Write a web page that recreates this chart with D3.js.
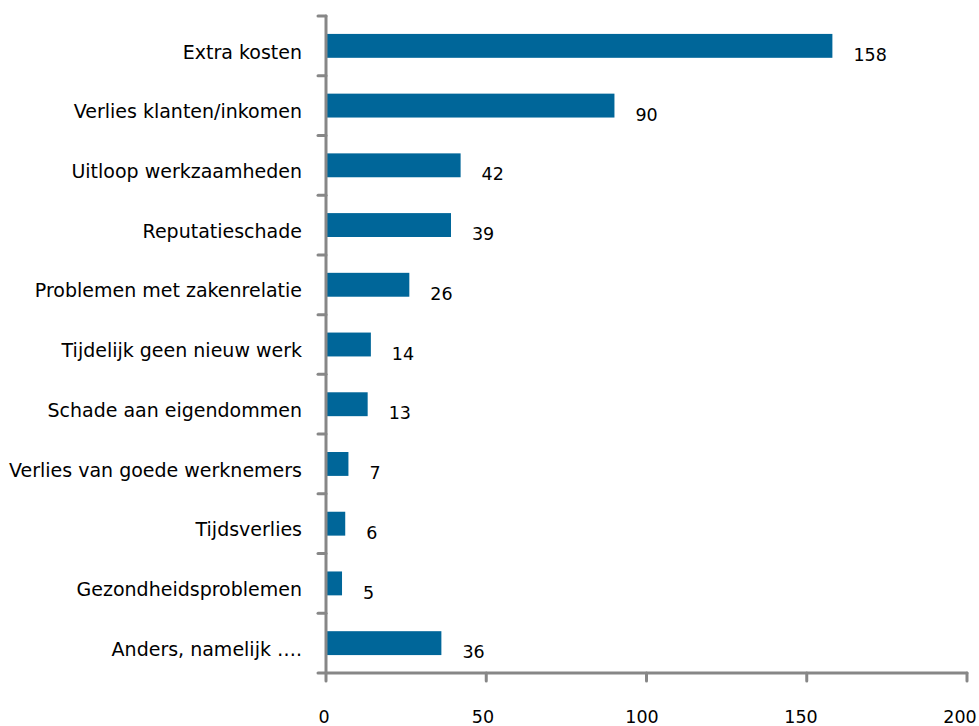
<!DOCTYPE html>
<html>
<head>
<meta charset="utf-8">
<script src="https://cdn.jsdelivr.net/npm/d3@7"></script>
<style>
  html, body { margin: 0; padding: 0; background: #fff; }
  svg { display: block; }
  text { font-family: "DejaVu Sans", Verdana, sans-serif; fill: #000; }
</style>
</head>
<body>
<svg id="chart" width="979" height="726"></svg>
<script>
const categories = [
  "Extra kosten",
  "Verlies klanten/inkomen",
  "Uitloop werkzaamheden",
  "Reputatieschade",
  "Problemen met zakenrelatie",
  "Tijdelijk geen nieuw werk",
  "Schade aan eigendommen",
  "Verlies van goede werknemers",
  "Tijdsverlies",
  "Gezondheidsproblemen",
  "Anders, namelijk …."
];
const values = [158, 90, 42, 39, 26, 14, 13, 7, 6, 5, 36];
const xTicks = [0, 50, 100, 150, 200];

const svg = d3.select("#chart");
const axisColor = "#878787";
const barColor = "#006699";
const numFont = 17.5;
const catFont = 19;

const x = d3.scaleLinear().domain([0, 200]).range([326, 967]);
const xLabel = d3.scaleLinear().domain([0, 200]).range([324, 960]);
const y = d3.scaleBand().domain(categories).range([16, 673]).paddingInner(0.6).paddingOuter(0.3);
const yStep = y.step();

// bars
svg.append("g").selectAll("rect")
  .data(values)
  .join("rect")
  .attr("x", x(0))
  .attr("y", (d, i) => y(categories[i]))
  .attr("width", d => x(d) - x(0))
  .attr("height", y.bandwidth())
  .attr("fill", barColor);

// value labels
svg.append("g").selectAll("text")
  .data(values)
  .join("text")
  .attr("x", d => x(d) + 21)
  .attr("y", (d, i) => y(categories[i]) + y.bandwidth() / 2 + 9)
  .attr("dy", "0.35em")
  .attr("font-size", numFont)
  .text(d => d);

// category labels
svg.append("g").selectAll("text")
  .data(categories)
  .join("text")
  .attr("x", 302)
  .attr("y", d => y(d) + y.bandwidth() / 2 + 6)
  .attr("dy", "0.35em")
  .attr("text-anchor", "end")
  .attr("font-size", catFont)
  .text(d => d);

// y axis line + ticks at band boundaries
const yTop = 16, yBot = 673;
const axisG = svg.append("g")
  .attr("stroke", axisColor)
  .attr("stroke-width", 3)
  .attr("fill", "none")
  .attr("stroke-linecap", "round");

axisG.append("line").attr("x1", x(0)).attr("x2", x(0)).attr("y1", yTop).attr("y2", yBot);
const boundaries = d3.range(categories.length).map(i => yTop + i * yStep);
axisG.selectAll("line.ytick")
  .data(boundaries)
  .join("line")
  .attr("class", "ytick")
  .attr("x1", x(0) - 8).attr("x2", x(0))
  .attr("y1", d => d).attr("y2", d => d);

// x axis line + ticks
axisG.append("line").attr("x1", x(0) - 8).attr("x2", x(200)).attr("y1", yBot).attr("y2", yBot);
axisG.selectAll("line.xtick")
  .data(xTicks)
  .join("line")
  .attr("class", "xtick")
  .attr("x1", d => x(d)).attr("x2", d => x(d))
  .attr("y1", yBot).attr("y2", yBot + 8);

// x tick labels
svg.append("g").selectAll("text")
  .data(xTicks)
  .join("text")
  .attr("x", d => xLabel(d))
  .attr("y", 723)
  .attr("text-anchor", "middle")
  .attr("font-size", numFont)
  .text(d => d);
</script>
</body>
</html>
